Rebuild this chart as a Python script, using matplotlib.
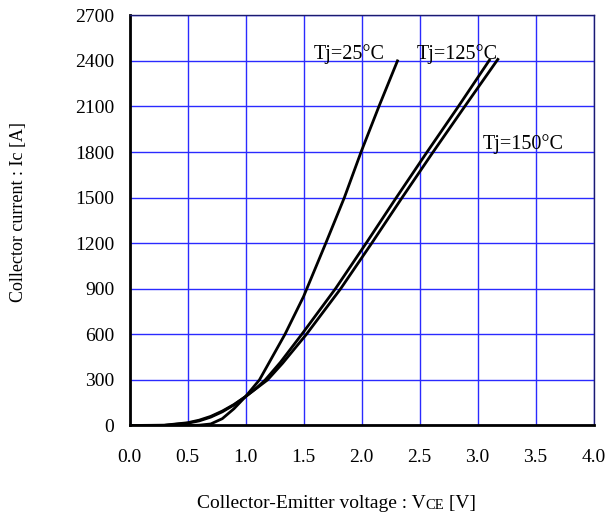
import matplotlib
matplotlib.use("Agg")
import matplotlib.pyplot as plt

plt.rcParams['font.family'] = ['Liberation Serif', 'DejaVu Serif']

# Tj = 25 C
v25 = [0.0, 0.5, 0.6, 0.7, 0.8, 0.9, 1.0, 1.12, 1.34, 1.5, 1.692, 1.852, 1.996, 2.15, 2.31]
i25 = [0, 0, 2, 10, 45, 110, 190, 300, 600, 848, 1200, 1500, 1800, 2100, 2400]
# Tj = 125 C
v125 = [0.0, 0.3, 0.5, 0.6, 0.7, 0.8, 0.9, 1.0, 1.1, 1.17, 1.3, 1.485, 1.775, 2.04,
        2.3, 2.565, 2.835, 3.103]
i125 = [0, 1, 15, 30, 55, 90, 135, 190, 250, 300, 415, 600, 900, 1200,
        1500, 1800, 2100, 2405]
# Tj = 150 C
v150 = [0.0, 0.3, 0.5, 0.6, 0.7, 0.8, 0.9, 1.0, 1.1, 1.19, 1.32, 1.525, 1.82, 2.088,
        2.35, 2.617, 2.89, 3.175]
i150 = [0, 2, 18, 35, 60, 95, 138, 190, 248, 300, 410, 600, 900, 1200,
        1500, 1800, 2100, 2410]

xticks = [0.0, 0.5, 1.0, 1.5, 2.0, 2.5, 3.0, 3.5, 4.0]
yticks = [0, 300, 600, 900, 1200, 1500, 1800, 2100, 2400, 2700]

fig = plt.figure(figsize=(6.06, 5.17), dpi=100)
ax = fig.add_axes([0.2137, 0.1770, 0.7657, 0.7934])

ax.plot(v25, i25, color='black', lw=2)
ax.plot(v125, i125, color='black', lw=2)
ax.plot(v150, i150, color='black', lw=2)

ax.set_xlim(0, 4)
ax.set_ylim(0, 2700)
ax.set_xticks(xticks)
ax.set_xticklabels([f"{t:.1f}" for t in xticks])
ax.set_yticks(yticks)
ax.grid(True, color='#2a2aff', lw=1)
ax.set_axisbelow(True)
ax.tick_params(axis='x', length=0, pad=17, labelsize=14)
ax.tick_params(axis='y', length=0, pad=11, labelsize=14)

for s in ['left', 'bottom']:
    ax.spines[s].set_linewidth(2)
    ax.spines[s].set_color('black')
for s in ['top', 'right']:
    ax.spines[s].set_linewidth(1)
    ax.spines[s].set_color('#1a1a70')

ax.text(1.584, 2410, "Tj=25°C", fontsize=14.5, va='baseline')
ax.text(2.476, 2410, "Tj=125°C", fontsize=14.5, va='baseline')
ax.text(3.046, 1820, "Tj=150°C", fontsize=14.5, va='baseline')

fig.text(19 / 606, 1 - 212 / 517, "Collector current : Ic [A]", rotation=90,
         fontsize=13, ha='center', va='center')

t1 = fig.text(197 / 606, 1 - 508 / 517, "Collector-Emitter voltage : V",
              fontsize=14, ha='left', va='baseline')
t2 = ax.annotate("CE", xy=(1, 0), xycoords=t1, fontsize=10.5, va='bottom', ha='left',
                 annotation_clip=False)
ax.annotate(" [V]", xy=(1, 0), xycoords=t2, fontsize=14, va='bottom', ha='left',
            annotation_clip=False)

fig.savefig("out.png", dpi=100)
